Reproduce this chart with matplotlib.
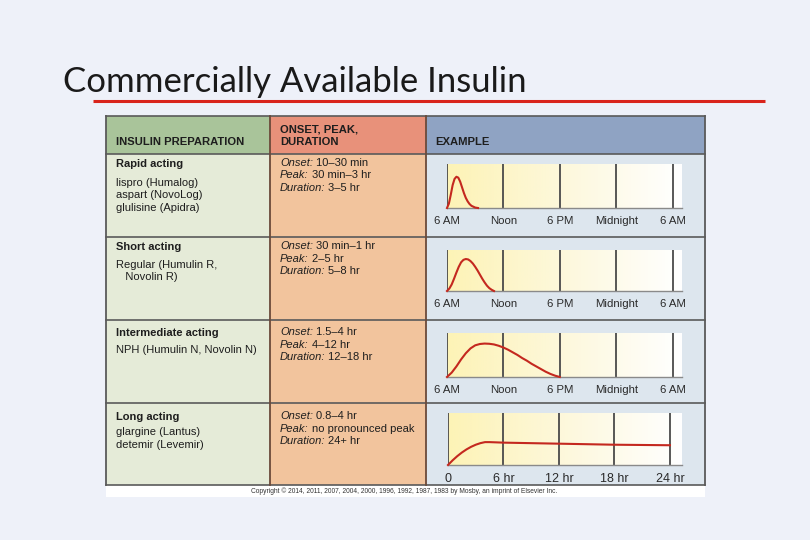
import numpy as np
import matplotlib
matplotlib.use("Agg")
from matplotlib import pyplot as plt
from matplotlib.colors import LinearSegmentedColormap

# table text
headers = ["INSULIN PREPARATION", "ONSET, PEAK,\nDURATION", "EXAMPLE"]
kinds = ["Rapid acting", "Short acting", "Intermediate acting", "Long acting"]
drugs = [
    ["lispro (Humalog)", "aspart (NovoLog)", "glulisine (Apidra)"],
    ["Regular (Humulin R,", "   Novolin R)"],
    ["NPH (Humulin N, Novolin N)"],
    ["glargine (Lantus)", "detemir (Levemir)"],
]
onset = ["10–30 min", "30 min–1 hr", "1.5–4 hr", "0.8–4 hr"]
peak = ["30 min–3 hr", "2–5 hr", "4–12 hr", "no pronounced peak"]
duration = ["3–5 hr", "5–8 hr", "12–18 hr", "24+ hr"]

# curves: hours after injection, relative insulin activity
rapid_t = [0, 0.2, 0.4, 0.6, 0.8, 1.0, 1.2, 1.4, 1.6, 1.8, 2.0, 2.2, 2.4, 2.6, 2.8, 3.0, 3.3]
rapid_y = [0, 0.1, 0.3, 0.52, 0.66, 0.71, 0.69, 0.6, 0.47, 0.34, 0.23, 0.15, 0.09, 0.05, 0.03, 0.01, 0]
short_t = [0, 0.25, 0.5, 0.75, 1, 1.25, 1.5, 1.75, 2, 2.25, 2.5, 2.75, 3, 3.25, 3.5, 3.75, 4, 4.25, 4.5, 4.75, 5]
short_y = [0, 0.06, 0.16, 0.3, 0.45, 0.59, 0.7, 0.76, 0.78, 0.77, 0.73, 0.67, 0.59, 0.5, 0.4, 0.3, 0.21, 0.13, 0.07, 0.03, 0]
inter_t = [0, 0.5, 1, 1.5, 2, 2.5, 3, 3.5, 4, 4.5, 5, 5.5, 6, 6.5, 7, 7.5, 8, 8.5, 9, 9.5, 10, 10.5, 11, 11.5, 12]
inter_y = [0, 0.1, 0.24, 0.4, 0.54, 0.65, 0.72, 0.75, 0.76, 0.755, 0.74, 0.71, 0.67, 0.62, 0.56, 0.5, 0.43, 0.37, 0.3, 0.24, 0.18, 0.12, 0.07, 0.03, 0]
long_t = [0, 0.5, 1, 1.5, 2, 2.5, 3, 3.5, 4, 4.5, 6, 12, 18, 24]
long_y = [0, 0.09, 0.17, 0.24, 0.3, 0.35, 0.39, 0.42, 0.44, 0.44, 0.43, 0.41, 0.39, 0.38]

clock_labels = ["6 AM", "Noon", "6 PM", "Midnight", "6 AM"]
hour_labels = ["0", "6 hr", "12 hr", "18 hr", "24 hr"]

W, H = 810, 540
fig = plt.figure(figsize=(W / 100, H / 100), dpi=100)
fig.patch.set_facecolor("#eef1f9")
bg = fig.add_axes([0, 0, 1, 1])
bg.set_xlim(0, W)
bg.set_ylim(H, 0)
bg.axis("off")

# title
bg.text(63, 92, "Commercially Available Insulin", fontsize=25, family="Lato",
        color="#1a1a1a", va="baseline")
bg.plot([93, 765], [101, 101], color="#d9241c", lw=2.2, solid_capstyle="butt")

# table layout in pixels
cx = [106, 270, 426, 705]
ry = [116, 154, 237, 320, 403, 485]
bottom = 497
head_col = ["#a9c49a", "#e8917a", "#8fa3c3"]
body_col = ["#e5ebd8", "#f2c49d", "#dde6ee"]
for i in range(3):
    bg.add_patch(plt.Rectangle((cx[i], ry[0]), cx[i + 1] - cx[i], ry[1] - ry[0],
                               facecolor=head_col[i], edgecolor="none"))
    bg.add_patch(plt.Rectangle((cx[i], ry[1]), cx[i + 1] - cx[i], ry[-1] - ry[1],
                               facecolor=body_col[i], edgecolor="none"))
bg.add_patch(plt.Rectangle((cx[0], ry[-1]), cx[-1] - cx[0], bottom - ry[-1],
                           facecolor="white", edgecolor="none"))

line_c = "#5a5a5a"
for y in ry:
    bg.plot([cx[0], cx[-1]], [y, y], color=line_c, lw=1.2)
for x in cx:
    bg.plot([x, x], [ry[0], ry[-1]], color="#6b4a3a" if x in (270, 426) else line_c, lw=1.3)

fs = 8.0
txt = dict(family="Liberation Sans", color="#1e1e1e", va="baseline")
bg.text(116, 145, headers[0], fontsize=8.1, weight="bold", **txt)
bg.text(280, 133, headers[1].split("\n")[0], fontsize=8.1, weight="bold", **txt)
bg.text(280, 145, headers[1].split("\n")[1], fontsize=8.1, weight="bold", **txt)
bg.text(435, 145, headers[2], fontsize=8.1, weight="bold", **txt)

kind_y = [167, 250, 336, 420]
drug_y0 = [186, 268, 353, 435]
renderer = fig.canvas.get_renderer()
for k in range(4):
    bg.text(116, kind_y[k], kinds[k], fontsize=fs, weight="bold", **txt)
    for j, d in enumerate(drugs[k]):
        bg.text(116, drug_y0[k] + j * 12.5, d, fontsize=fs, **txt)
    y0 = kind_y[k] - 1
    for j, (lab, val) in enumerate([("Onset:", onset[k]), ("Peak:", peak[k]),
                                    ("Duration:", duration[k])]):
        t = bg.text(280, y0 + j * 12.5, lab, fontsize=fs, style="italic", **txt)
        bb = t.get_window_extent(renderer=renderer)
        bg.text(280 + bb.width + 3, y0 + j * 12.5, val, fontsize=fs, **txt)

bg.text(404, 493, "Copyright © 2014, 2011, 2007, 2004, 2000, 1996, 1992, 1987, 1983 by Mosby, "
        "an imprint of Elsevier Inc.", fontsize=4.8, ha="center", family="Liberation Sans",
        color="#333333", va="baseline")

# example charts
cmap = LinearSegmentedColormap.from_list("yl", ["#fdf3b6", "#fdf8dc", "#ffffff"])
panels = [
    (447, 164, 682, 208, 25.0, rapid_t, rapid_y, clock_labels),
    (447, 250, 682, 291, 25.0, short_t, short_y, clock_labels),
    (447, 333, 682, 377, 25.0, inter_t, inter_y, clock_labels),
    (448, 413, 682, 465, 25.3, long_t, long_y, hour_labels),
]
for x0, y0, x1, y1, xmax, t, yv, labs in panels:
    ax = fig.add_axes([x0 / W, 1 - y1 / H, (x1 - x0) / W, (y1 - y0) / H])
    grad = np.linspace(0, 1, 256).reshape(1, -1)
    ax.imshow(grad, cmap=cmap, extent=(0, xmax, 0, 1), aspect="auto", zorder=0)
    ax.set_xlim(0, xmax)
    ax.set_ylim(0, 1)
    for v in [0, 6, 12, 18, 24]:
        ax.axvline(v, color="#4a4a4a", lw=1.3, zorder=1)
    ax.plot(t, yv, color="#c4281f", lw=1.5, zorder=3, clip_on=False)
    for s in ["top", "right", "left"]:
        ax.spines[s].set_visible(False)
    ax.spines["bottom"].set_color("#8a8a8a")
    ax.spines["bottom"].set_linewidth(1.0)
    ax.set_yticks([])
    ax.set_xticks([0, 6, 12, 18, 24])
    if labs is clock_labels:
        ax.set_xticklabels(labs, fontsize=8.2, family="Liberation Sans", color="#2a2a2a")
        ax.tick_params(axis="x", length=0, pad=6)
    else:
        ax.set_xticklabels(labs, fontsize=9, family="Liberation Sans", color="#2a2a2a")
        ax.tick_params(axis="x", length=0, pad=6)

fig.savefig("out.png", dpi=100, facecolor=fig.get_facecolor())
